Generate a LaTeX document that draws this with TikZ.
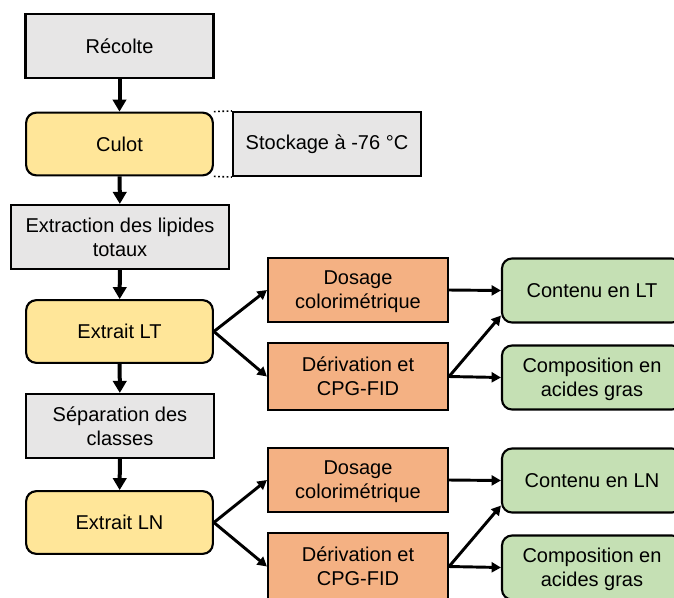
\documentclass[tikz,border=0pt]{standalone}
\usepackage{fontspec}
\setmainfont{Liberation Sans}
\usetikzlibrary{arrows.meta}
\definecolor{boxgray}{HTML}{E7E6E6}
\definecolor{boxyellow}{HTML}{FFE699}
\definecolor{boxorange}{HTML}{F4B183}
\definecolor{boxgreen}{HTML}{C5E0B4}

\begin{document}
\begin{tikzpicture}[x=0.75pt, y=-0.75pt,
    every node/.style={draw=black, line width=1.6pt, align=center, inner sep=0pt,
        font=\fontsize{15}{18}\selectfont},
    stepbox/.style={fill=boxgray, minimum width=141pt, minimum height=48pt},
    sample/.style={fill=boxyellow, rounded corners=7.5pt, minimum width=140pt, minimum height=47pt},
    method/.style={fill=boxorange, minimum width=135pt, minimum height=48pt},
    result/.style={fill=boxgreen, rounded corners=7.5pt, minimum width=135pt, minimum height=48pt},
    nodepth/.style={text depth=0pt},
    flow/.style={line width=3pt, -{Triangle[length=9pt, width=10pt]}},
    link/.style={line width=2.2pt, -{Triangle[length=7pt, width=7.5pt]}}]
    \clip (0, 0) rectangle (674, 597);
    \useasboundingbox (0, 0) rectangle (674, 597);

    % left column
    \node[stepbox] (recolte) at (119.5, 46) {Récolte};
    \node[sample] (culot) at (119.5, 144) {Culot};
    \node[stepbox] (stockage) at (327, 144) {Stockage à -76 °C};
    \node[stepbox, minimum width=163.5pt] (extraction) at (120, 237) {Extraction des lipides\\totaux};
    \node[sample] (extraitLT) at (119.5, 331.5) {Extrait LT};
    \node[stepbox] (separation) at (120, 426) {Séparation des\\classes};
    \node[sample] (extraitLN) at (119.5, 522.5) {Extrait LN};

    % analyses LT
    \node[method, nodepth] (dosageLT) at (358, 290) {Dosage\\colorimétrique};
    \node[method, minimum height=50pt] (derivLT) at (358, 376.5) {Dérivation et\\CPG-FID};
    \node[result] (contenuLT) at (592, 290.5) {Contenu en LT};
    \node[result, nodepth] (compLT) at (592, 377.5) {Composition en\\acides gras};

    % analyses LN
    \node[method, nodepth] (dosageLN) at (358, 480) {Dosage\\colorimétrique};
    \node[method, minimum height=50pt] (derivLN) at (358, 566.5) {Dérivation et\\CPG-FID};
    \node[result] (contenuLN) at (592, 480.5) {Contenu en LN};
    \node[result, nodepth] (compLN) at (592, 567.5) {Composition en\\acides gras};

    % stockage
    \draw[dotted, line width=1.2pt] (culot.north east) -- (stockage.north west);
    \draw[dotted, line width=1.2pt] (culot.south east) -- (stockage.south west);

    % main flow
    \draw[flow] (recolte) -- (culot);
    \draw[flow] (culot) -- (extraction);
    \draw[flow] (extraction) -- (extraitLT);
    \draw[flow] (extraitLT) -- (separation);
    \draw[flow] (separation) -- (extraitLN);

    % branches
    \draw[link] (extraitLT.east) -- (dosageLT.west);
    \draw[link] (extraitLT.east) -- (derivLT.west);
    \draw[link] (dosageLT.east) -- (contenuLT.west);
    \draw[link] (derivLT.east) -- ([yshift=6pt]contenuLT.south west);
    \draw[link] (derivLT.east) -- (compLT.west);

    \draw[link] (extraitLN.east) -- (dosageLN.west);
    \draw[link] (extraitLN.east) -- (derivLN.west);
    \draw[link] (dosageLN.east) -- (contenuLN.west);
    \draw[link] (derivLN.east) -- ([yshift=6pt]contenuLN.south west);
    \draw[link] (derivLN.east) -- (compLN.west);
\end{tikzpicture}
\end{document}
